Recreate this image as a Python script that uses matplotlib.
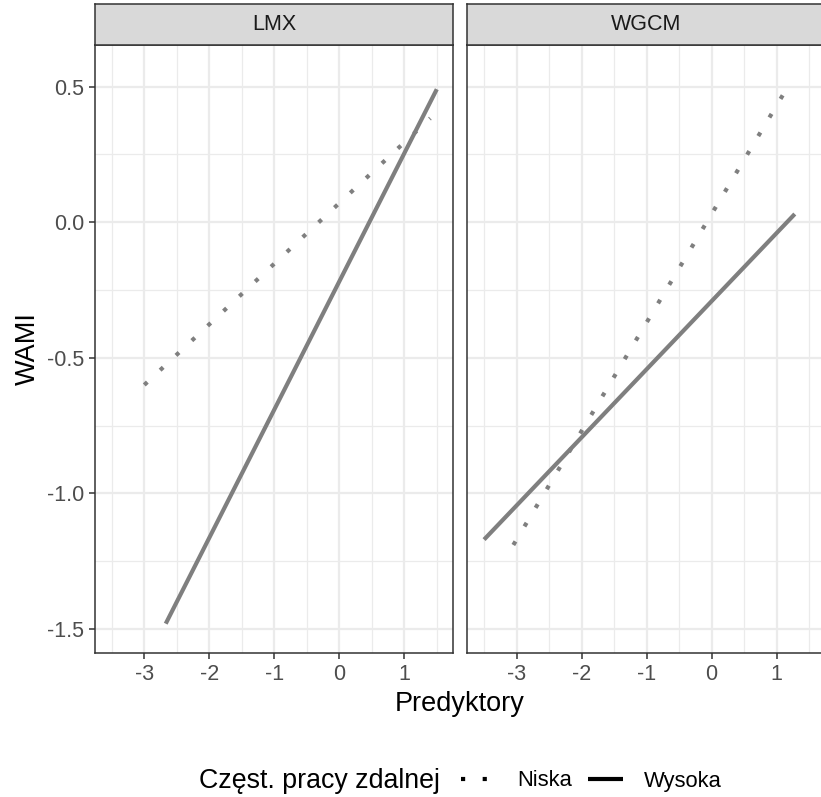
import matplotlib.pyplot as plt
from matplotlib.lines import Line2D

plt.rcParams['font.family'] = ['Liberation Sans', 'DejaVu Sans']

panels = ['LMX', 'WGCM']
levels = ['Niska', 'Wysoka']
legend_title = 'Częst. pracy zdalnej'

# end points of the fitted lines (predictor, WAMI)
lmx_niska_x = [-3.0, 1.4]
lmx_niska_y = [-0.60, 0.383]
lmx_wysoka_x = [-2.67, 1.5]
lmx_wysoka_y = [-1.48, 0.49]
wgcm_niska_x = [-3.05, 1.2]
wgcm_niska_y = [-1.19, 0.51]
wgcm_wysoka_x = [-3.5, 1.28]
wgcm_wysoka_y = [-1.17, 0.03]

x_ticks = [-3, -2, -1, 0, 1]
y_ticks = [-1.5, -1.0, -0.5, 0.0, 0.5]

lines = {
    'LMX': [(lmx_niska_x, lmx_niska_y, 'Niska'), (lmx_wysoka_x, lmx_wysoka_y, 'Wysoka')],
    'WGCM': [(wgcm_niska_x, wgcm_niska_y, 'Niska'), (wgcm_wysoka_x, wgcm_wysoka_y, 'Wysoka')],
}
styles = {'Niska': (0, (1, 4.2)), 'Wysoka': '-'}

W, H = 821, 797
fig = plt.figure(figsize=(W/100, H/100), dpi=100)

def px(x0, y0, x1, y1):
    return [x0/W, 1 - y1/H, (x1-x0)/W, (y1-y0)/H]

lefts = [95, 467.3]
pw = 358.3
lw = 3.0

for i, name in enumerate(panels):
    x0 = lefts[i]
    ax = fig.add_axes(px(x0, 45, x0+pw, 652.7))
    ax.set_xlim(-3.758, 1.754)
    ax.set_ylim(-1.587, 0.653)
    ax.set_xticks(x_ticks)
    ax.set_xticks([-3.5, -2.5, -1.5, -0.5, 0.5, 1.5], minor=True)
    ax.set_yticks(y_ticks)
    ax.set_yticks([-1.25, -0.75, -0.25, 0.25], minor=True)
    ax.grid(which='major', color='#EBEBEB', lw=1.6)
    ax.grid(which='minor', color='#EBEBEB', lw=0.9)
    ax.set_axisbelow(True)
    for s in ax.spines.values():
        s.set_color('#333333')
        s.set_linewidth(1.1)
    ax.tick_params(which='major', length=4.3, width=1.1, color='#333333',
                   labelsize=15.5, labelcolor='#4D4D4D', pad=3.5)
    ax.tick_params(which='minor', length=0)
    ax.set_xticklabels([str(t) for t in x_ticks])
    if i == 0:
        ax.set_yticklabels(['%.1f' % t for t in y_ticks])
    else:
        ax.tick_params(axis='y', which='both', left=False, labelleft=False)

    for xs, ys, lev in lines[name]:
        ax.plot(xs, ys, color='#7F7F7F', lw=lw, linestyle=styles[lev],
                solid_capstyle='butt', dash_capstyle='butt')

    sax = fig.add_axes(px(x0, 4, x0+pw, 45))
    sax.set_facecolor('#D9D9D9')
    sax.set_xticks([])
    sax.set_yticks([])
    for s in sax.spines.values():
        s.set_color('#333333')
        s.set_linewidth(1.1)
    sax.text(0.5, 0.5, name, ha='center', va='center', fontsize=15.5,
             color='#1A1A1A', transform=sax.transAxes)

fig.text(28/W, 1 - 349/H, 'WAMI', rotation=90, ha='center', va='center',
         fontsize=19.5, color='black')
fig.text(460/W, 1 - 704/H, 'Predyktory', ha='center', va='center',
         fontsize=19.5, color='black')

fig.text(199/W, 1 - 781/H, legend_title, ha='left', va='center',
         fontsize=19.3, color='black')
handles = [Line2D([], [], color='black', lw=lw, linestyle=styles[l],
                  solid_capstyle='butt', dash_capstyle='butt') for l in levels]
fig.legend(handles, levels, loc='center left', bbox_to_anchor=(461/W, 1 - 781/H),
           ncol=2, frameon=False, fontsize=15.8, handlelength=1.6,
           handletextpad=0.95, columnspacing=0.75, borderpad=0, borderaxespad=0)

fig.savefig('out.png', dpi=100)
